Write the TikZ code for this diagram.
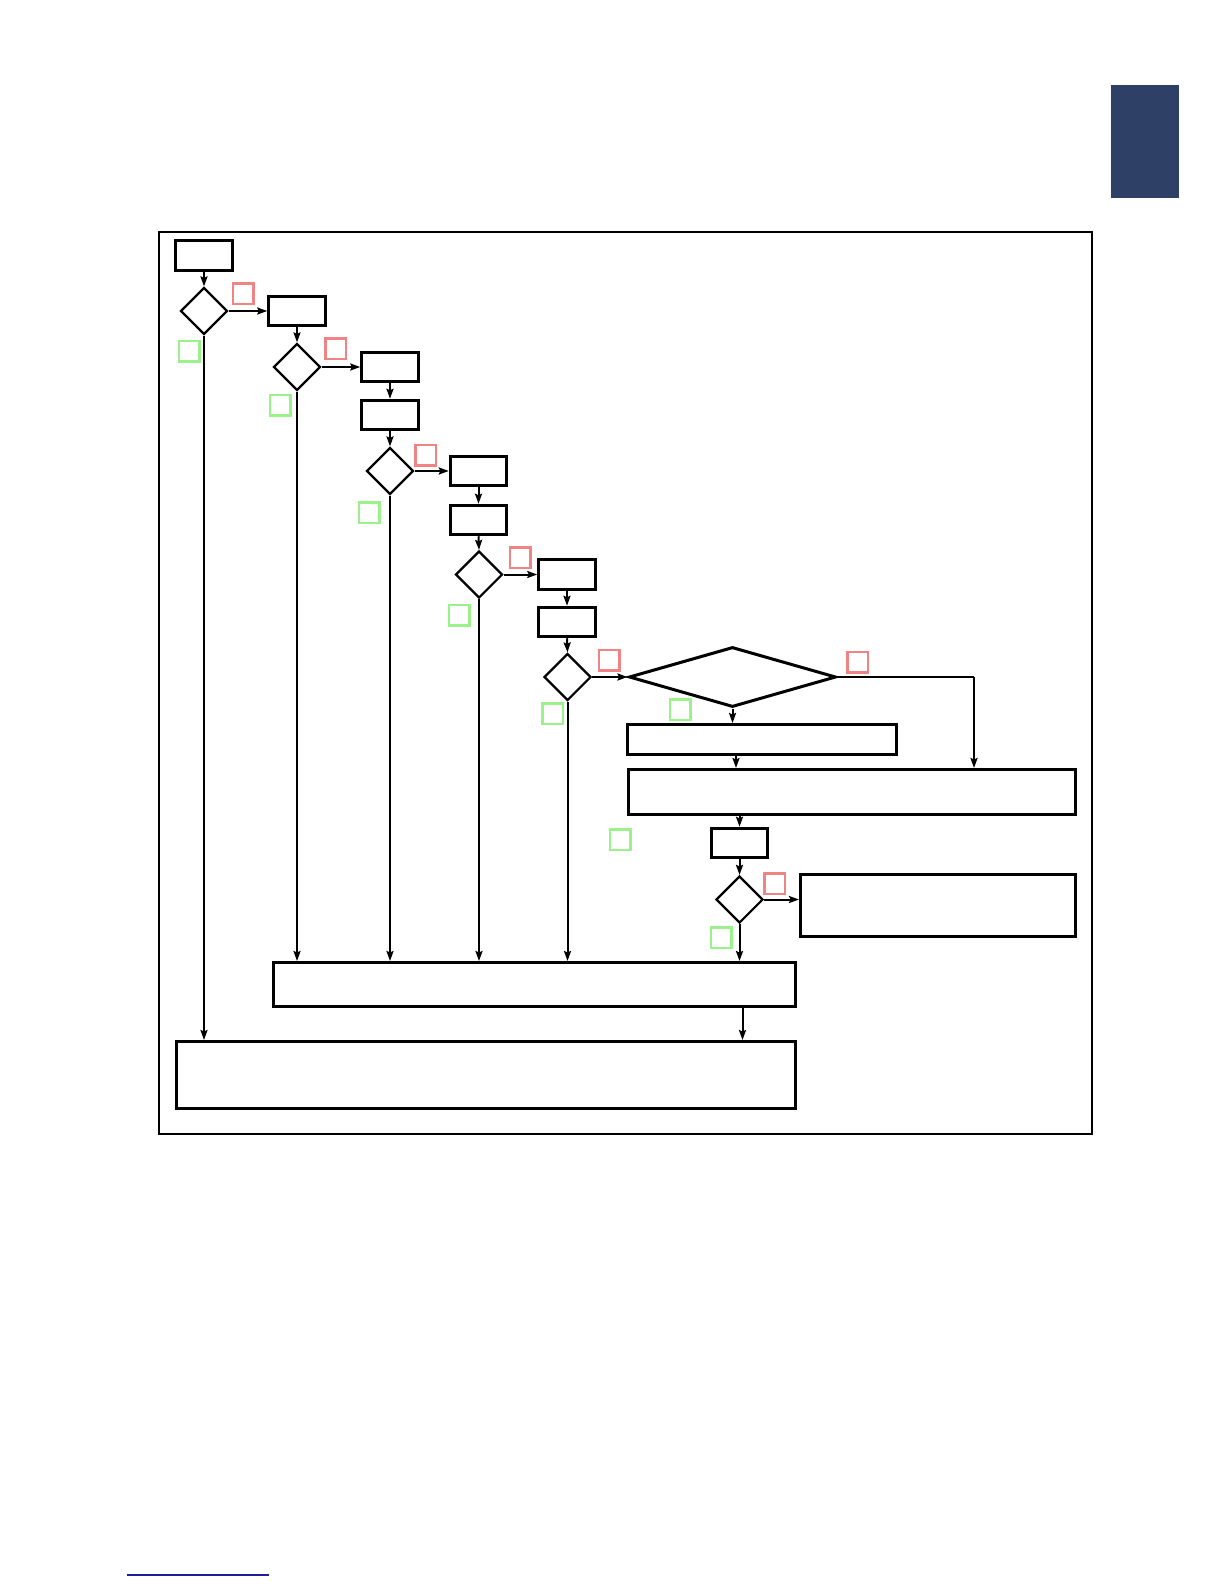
\documentclass[tikz,border=0pt]{standalone}
\usetikzlibrary{shapes.geometric,arrows.meta}
\definecolor{redsq}{HTML}{F08484}
\definecolor{greensq}{HTML}{9CF28A}
\definecolor{navy}{HTML}{2E4066}
\definecolor{linkblue}{HTML}{1F1F99}
\begin{document}
\begin{tikzpicture}[x=1pt,y=-1pt,
  sbox/.style={draw,rectangle,line width=3pt,inner sep=0pt,minimum width=56.5pt,minimum height=29.5pt},
  wbox/.style={draw,rectangle,line width=3pt,inner sep=0pt},
  dia/.style={draw,diamond,aspect=1,line width=2.2pt,inner sep=0pt,minimum width=47pt,minimum height=47pt},
  rsq/.style={draw=redsq,rectangle,line width=2.5pt,inner sep=0pt,minimum size=20.5pt},
  gsq/.style={draw=greensq,rectangle,line width=2.5pt,inner sep=0pt,minimum size=20.5pt},
  conn/.style={line width=2pt,-{Stealth[length=10pt,width=7pt,inset=1.5pt]}},
  plain/.style={line width=2pt}]
\useasboundingbox (0,0) rectangle (1224,1584);
% page decorations
\fill[navy] (1111,85) rectangle (1178.5,198);
\draw[linkblue,line width=1.2pt] (127,1575) -- (269,1575);
% outer frame
\draw[line width=2pt] (159,232) rectangle (1092,1134);

% nodes
\node[sbox] (B1) at (204,255.5) {};
\node[dia]  (D1) at (204,311) {};
\node[sbox] (B2) at (297,311) {};
\node[dia]  (D2) at (297,367) {};
\node[sbox] (B3) at (390,367) {};
\node[sbox] (B4) at (390,415) {};
\node[dia]  (D3) at (390,471) {};
\node[sbox] (B5) at (478.5,471) {};
\node[sbox] (B6) at (478.5,520) {};
\node[dia]  (D4) at (479,574.5) {};
\node[sbox] (B7) at (567,574.5) {};
\node[sbox] (B8) at (567,622) {};
\node[dia]  (D5) at (567.5,677) {};
\node[draw,diamond,line width=3pt,inner sep=0pt,minimum width=207pt,minimum height=60pt] (BD) at (732.5,677) {};
\node[wbox,minimum width=269pt,minimum height=30pt] (B9) at (762,739.5) {};
\node[wbox,minimum width=447pt,minimum height=45pt] (B10) at (852,792) {};
\node[sbox] (B11) at (739.5,843) {};
\node[dia]  (D6) at (739.5,899.5) {};
\node[wbox,minimum width=275pt,minimum height=62pt] (B12) at (938,905.5) {};
\node[wbox,minimum width=522pt,minimum height=44pt] (B13) at (534.5,984.5) {};
\node[wbox,minimum width=619pt,minimum height=67pt] (B14) at (486,1075) {};

% red / green markers
\node[rsq] (R1) at (243,293.5) {};
\node[rsq] (R2) at (335.5,348.5) {};
\node[rsq] (R3) at (425.5,455) {};
\node[rsq] (R4) at (520,557.5) {};
\node[rsq] (R5) at (609,660) {};
\node[rsq] (R6) at (857.5,662) {};
\node[rsq] (R7) at (774.5,883.5) {};
\node[gsq] (G1) at (189,351) {};
\node[gsq] (G2) at (280,405) {};
\node[gsq] (G3) at (369,512.5) {};
\node[gsq] (G4) at (459,615) {};
\node[gsq] (G5) at (552.5,713.5) {};
\node[gsq] (G6) at (680,709.5) {};
\node[gsq] (G7) at (620,839.5) {};
\node[gsq] (G8) at (721,937.5) {};

\coordinate (RC) at (974,677);

% connectors
\draw[conn] (B1) -- (D1);
\draw[conn] (D1.east) -- (B2.west);
\draw[conn] (B2) -- (D2);
\draw[conn] (D2.east) -- (B3.west);
\draw[conn] (B3) -- (B4);
\draw[conn] (B4) -- (D3);
\draw[conn] (D3.east) -- (B5.west);
\draw[conn] (B5) -- (B6);
\draw[conn] (B6.south) -- (D4.north);
\draw[conn] (D4.east) -- (B7.west);
\draw[conn] (B7) -- (B8);
\draw[conn] (B8.south) -- (D5.north);
\draw[conn] (D5.east) -- (BD.west);
\draw[conn] (BD.south) -- (BD.south |- B9.north);
\draw[plain] (BD.east) -- (RC);
\draw[conn] (RC) -- (RC |- B10.north);
\draw[conn] ([xshift=-26pt]B9.south) -- ([xshift=-26pt]B9.south |- B10.north);
\draw[conn] (B10.south -| B11.north) -- (B11.north);
\draw[conn] (B11) -- (D6);
\draw[conn] (D6.east) -- (D6.east -| B12.west);
\draw[conn] (D6.south) -- (D6.south |- B13.north);
\draw[conn] (D5.south) -- (D5.south |- B13.north);
\draw[conn] (D4.south) -- (D4.south |- B13.north);
\draw[conn] (D3.south) -- (D3.south |- B13.north);
\draw[conn] (D2.south) -- (D2.south |- B13.north);
\draw[conn] (D1.south) -- (D1.south |- B14.north);
\draw[conn] ([xshift=3pt]B13.south -| D6.south) -- ([xshift=3pt]B14.north -| D6.south);
\end{tikzpicture}
\end{document}
